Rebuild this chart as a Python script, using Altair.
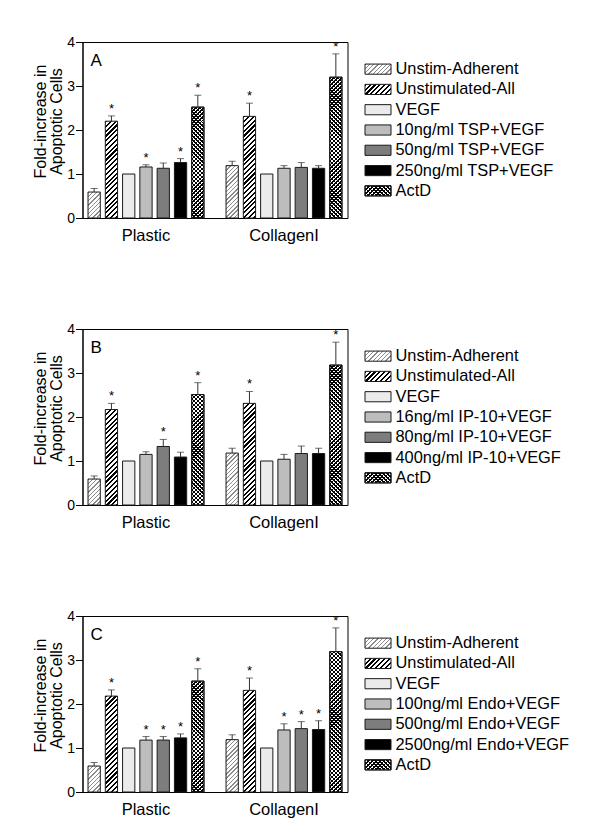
import math
import altair as alt
import pandas as pd

groups = ["Plastic", "CollagenI"]
letters = ["A", "B", "C"]

series_A = ["Unstim-Adherent", "Unstimulated-All", "VEGF", "10ng/ml TSP+VEGF",
            "50ng/ml TSP+VEGF", "250ng/ml TSP+VEGF", "ActD"]
series_B = ["Unstim-Adherent", "Unstimulated-All", "VEGF", "16ng/ml IP-10+VEGF",
            "80ng/ml IP-10+VEGF", "400ng/ml IP-10+VEGF", "ActD"]
series_C = ["Unstim-Adherent", "Unstimulated-All", "VEGF", "100ng/ml Endo+VEGF",
            "500ng/ml Endo+VEGF", "2500ng/ml Endo+VEGF", "ActD"]

# Panel A
mean_A_plastic = [0.59, 2.20, 1.00, 1.16, 1.13, 1.26, 2.52]
err_A_plastic = [0.08, 0.12, 0.00, 0.05, 0.12, 0.09, 0.27]
star_A_plastic = [0, 1, 0, 1, 0, 1, 1]
mean_A_collagen = [1.19, 2.31, 1.00, 1.13, 1.15, 1.13, 3.20]
err_A_collagen = [0.10, 0.30, 0.00, 0.06, 0.11, 0.06, 0.53]
star_A_collagen = [0, 1, 0, 0, 0, 0, 1]

# Panel B
mean_B_plastic = [0.59, 2.17, 1.00, 1.15, 1.33, 1.09, 2.51]
err_B_plastic = [0.07, 0.14, 0.00, 0.06, 0.16, 0.11, 0.27]
star_B_plastic = [0, 1, 0, 0, 1, 0, 1]
mean_B_collagen = [1.18, 2.31, 1.00, 1.04, 1.17, 1.17, 3.18]
err_B_collagen = [0.11, 0.27, 0.00, 0.11, 0.17, 0.12, 0.52]
star_B_collagen = [0, 1, 0, 0, 0, 0, 1]

# Panel C
mean_C_plastic = [0.59, 2.18, 1.00, 1.18, 1.18, 1.23, 2.52]
err_C_plastic = [0.08, 0.14, 0.00, 0.08, 0.08, 0.09, 0.28]
star_C_plastic = [0, 1, 0, 1, 1, 1, 1]
mean_C_collagen = [1.19, 2.31, 1.00, 1.41, 1.44, 1.42, 3.19]
err_C_collagen = [0.11, 0.28, 0.00, 0.14, 0.16, 0.20, 0.54]
star_C_collagen = [0, 1, 0, 1, 1, 1, 1]

# ---- styling ----
FONT = "Liberation Sans"
W, H = 265, 176
PX = H / 4.0          # pixels per y unit
BW = 12.27            # bar pixel width
SOLID = {2: "#ebebeb", 3: "#bdbdbd", 4: "#7d7d7d", 5: "#000000"}
# idx: (period, line width, fg, bg)
HATCH = {0: (3.0, 1.0, "#8c8c8c", "#ffffff"),
         1: (3.4, 1.5, "#000000", "#ffffff"),
         6: (2.8, 1.0, "#000000", "#ffffff")}
ACTD_BACK = (2.8, 1.0, "#000000", "rgba(255,255,255,0)")
STROKE = "#1a1a1a"


def hatch(w, h, period, lw, fg, bg, back=False):
    r = h / w
    k = (1 + r) / (1 + r * r)
    if back:
        x1, y1, x2, y2 = 1, 0, 1 - k, k * r
    else:
        x1, y1, x2, y2 = 0, 0, k, k * r
    n = (w + h) / (math.sqrt(2) * period)
    f = lw / period
    stops = []
    i = 0
    while i / n < 1:
        a = i / n
        b = min((i + f) / n, 1.0)
        c = min((i + 1) / n, 1.0)
        stops += [{"offset": round(a, 5), "color": fg},
                  {"offset": round(b, 5), "color": fg},
                  {"offset": round(b, 5), "color": bg},
                  {"offset": round(c, 5), "color": bg}]
        i += 1
    return {"gradient": "linear", "x1": x1, "y1": y1, "x2": x2, "y2": y2,
            "stops": stops}


def panel(letter, series, mp, ep, sp, mc, ec, sc):
    rows = []
    for g, m, e, s in [("Plastic", mp, ep, sp), ("CollagenI", mc, ec, sc)]:
        for i, name in enumerate(series):
            rows.append({"group": g, "series": name, "idx": i, "value": m[i],
                         "err": e[i], "top": m[i] + e[i],
                         "star": "*" if s[i] else ""})
    df = pd.DataFrame(rows)

    conds = []
    back_conds = []
    for g, m in [("Plastic", mp), ("CollagenI", mc)]:
        for i in (0, 1, 6):
            conds.append({"test": f"datum.group === '{g}' && datum.idx === {i}",
                          "value": hatch(BW, m[i] * PX, *HATCH[i])})
        back_conds.append({"test": f"datum.group === '{g}'",
                           "value": hatch(BW, m[6] * PX, *ACTD_BACK, back=True)})
    for i, c in SOLID.items():
        conds.append({"test": f"datum.idx === {i}", "value": c})

    x = alt.X("group:N", sort=groups,
              scale=alt.Scale(domain=groups, paddingInner=0.16, paddingOuter=0.04),
              axis=alt.Axis(title=None, labelAngle=0, ticks=False, labelPadding=9,
                            labelFontSize=16.5, domainColor="black",
                            labelColor="black"))
    xo = alt.XOffset("series:N",
                     scale=alt.Scale(domain=series, paddingInner=0.29, paddingOuter=0))
    yaxis = alt.Axis(values=[0, 1, 2, 3, 4], format="d", grid=False,
                     title=["Fold-increase in", "Apoptotic Cells"],
                     titleFontSize=16, titleFontWeight="normal", titleColor="black",
                     titlePadding=2, titleY=79, titleLineHeight=16,
                     labelFontSize=14, labelColor="black", labelPadding=1,
                     tickSize=7, tickColor="black", domainColor="black")
    ysc = alt.Scale(domain=[0, 4])

    base = alt.Chart(df)
    bars = base.mark_bar(stroke=STROKE, strokeWidth=1).encode(
        x=x, xOffset=xo, y=alt.Y("value:Q", scale=ysc, axis=yaxis),
        fill={"condition": conds, "value": "white"})
    overlay = base.transform_filter("datum.idx === 6").mark_bar(
        stroke=STROKE, strokeWidth=1).encode(
        x=x, xOffset=xo, y=alt.Y("value:Q", scale=ysc, axis=yaxis),
        fill={"condition": back_conds, "value": "transparent"})
    errs = base.transform_filter("datum.err > 0")
    rules = errs.mark_rule(color="#333333", strokeWidth=1).encode(
        x=x, xOffset=xo, y=alt.Y("value:Q", scale=ysc, axis=yaxis), y2="top:Q")
    caps = errs.mark_tick(color="#333333", thickness=1, size=7).encode(
        x=x, xOffset=xo, y=alt.Y("top:Q", scale=ysc, axis=yaxis))
    stars = base.transform_filter("datum.star !== ''").mark_text(
        fontSize=13, baseline="alphabetic", dy=-3, color="black").encode(
        x=x, xOffset=xo, y=alt.Y("top:Q", scale=ysc, axis=yaxis), text="star:N")
    lab = alt.Chart(pd.DataFrame({"t": [letter]})).mark_text(
        align="left", baseline="alphabetic", fontSize=17, color="black").encode(
        text="t:N", x=alt.value(8), y=alt.value(24))
    plot = alt.layer(bars, overlay, rules, caps, stars, lab)

    # custom legend
    ldf = pd.DataFrame({"series": series, "idx": list(range(7))})
    lw_, lh_ = 26, 10.14
    lconds = []
    for i in (0, 1, 6):
        lconds.append({"test": f"datum.idx === {i}",
                       "value": hatch(lw_, lh_, *HATCH[i])})
    for i, c in SOLID.items():
        lconds.append({"test": f"datum.idx === {i}", "value": c})
    ly = alt.Y("series:N", sort=series,
               scale=alt.Scale(domain=series, range=[17.0, 159.0],
                               paddingInner=0.5, paddingOuter=0.25),
               axis=None)
    lbase = alt.Chart(ldf)
    lrect = lbase.mark_rect(stroke=STROKE, strokeWidth=1).encode(
        y=ly, x=alt.value(282.5), x2=alt.value(308.5),
        fill={"condition": lconds, "value": "white"})
    lover = lbase.transform_filter("datum.idx === 6").mark_rect(
        stroke=STROKE, strokeWidth=1).encode(
        y=ly, x=alt.value(282.5), x2=alt.value(308.5),
        fill=alt.value(hatch(lw_, lh_, *ACTD_BACK, back=True)))
    ltext = lbase.mark_text(align="left", baseline="middle", fontSize=16.4,
                            color="black").encode(
        y=ly, x=alt.value(313), text="series:N")
    legend = alt.layer(lrect, lover, ltext)

    return alt.layer(plot, legend).resolve_scale(y="independent").properties(
        width=W, height=H)


pA = panel("A", series_A, mean_A_plastic, err_A_plastic, star_A_plastic,
           mean_A_collagen, err_A_collagen, star_A_collagen)
pB = panel("B", series_B, mean_B_plastic, err_B_plastic, star_B_plastic,
           mean_B_collagen, err_B_collagen, star_B_collagen)
pC = panel("C", series_C, mean_C_plastic, err_C_plastic, star_C_plastic,
           mean_C_collagen, err_C_collagen, star_C_collagen)

chart = alt.vconcat(pA, pB, pC, spacing=77).resolve_scale(
    xOffset="independent", x="independent", y="independent"
).properties(
    padding={"left": 23.5, "top": 26, "right": 5, "bottom": 5},
    background="white",
).configure(font=FONT).configure_view(stroke="black", strokeWidth=1)

chart.save("out.html", embed_options={"renderer": "svg", "actions": False})
